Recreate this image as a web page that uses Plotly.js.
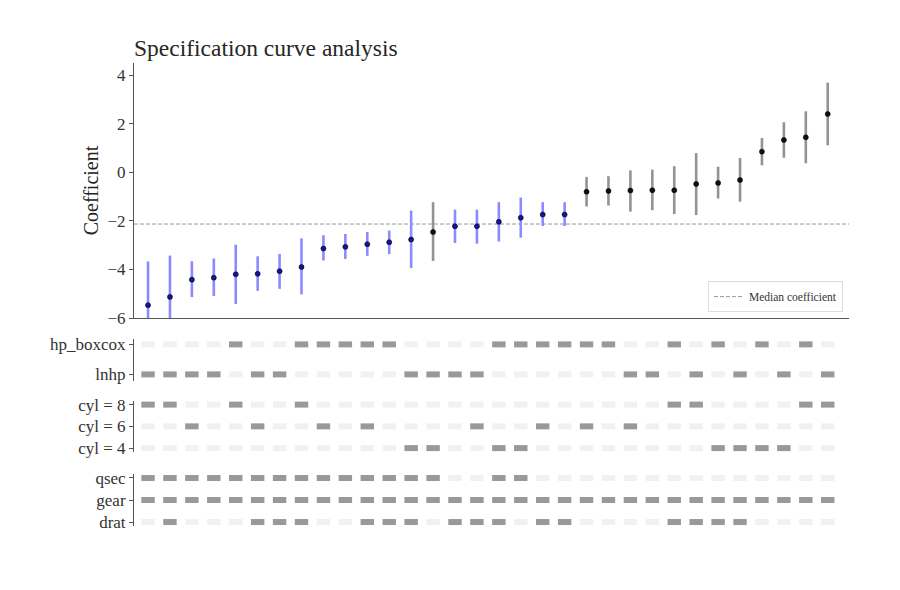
<!DOCTYPE html>
<html>
<head>
<meta charset="utf-8">
<script src="https://cdn.plot.ly/plotly-3.0.1.min.js"></script>
<style>html,body{margin:0;padding:0;background:#fff;}#chart{width:900px;height:590px;}</style>
</head>
<body>
<div id="chart"></div>
<script>
// ---- data ----
const coef   = [-5.47, -5.13, -4.42, -4.34, -4.20, -4.18, -4.07, -3.90, -3.14, -3.07, -2.96, -2.88, -2.77, -2.46, -2.22, -2.22,
                -2.04, -1.87, -1.74, -1.74, -0.80, -0.77, -0.75, -0.74, -0.74, -0.48, -0.44, -0.32, 0.85, 1.33, 1.44, 2.40];
const ciHigh = [-3.67, -3.43, -3.66, -3.55, -2.98, -3.46, -3.36, -2.72, -2.59, -2.54, -2.46, -2.40, -1.58, -1.23, -1.54, -1.54,
                -1.23, -1.04, -1.23, -1.23, -0.19, -0.16, 0.08, 0.11, 0.25, 0.79, 0.23, 0.59, 1.41, 2.06, 2.51, 3.69];
const ciLow  = [-7.27, -6.83, -5.14, -5.09, -5.42, -4.88, -4.80, -5.03, -3.63, -3.57, -3.44, -3.37, -3.94, -3.65, -2.91, -2.94,
                -2.85, -2.69, -2.21, -2.21, -1.41, -1.37, -1.62, -1.56, -1.72, -1.76, -1.08, -1.21, 0.29, 0.60, 0.37, 1.11];
const significant = [1,1,1,1,1,1,1,1,1,1,1,1,1,0,1,1,1,1,1,1,0,0,0,0,0,0,0,0,0,0,0,0];

// specification matrix (1 = included)
const hpBoxcox = [0,0,0,0,1,0,0,1,1,1,1,1,0,0,0,0,1,1,1,1,1,1,0,0,1,0,1,0,1,0,1,0];
const lnhp     = [1,1,1,1,0,1,1,0,0,0,0,0,1,1,1,1,0,0,0,0,0,0,1,1,0,1,0,1,0,1,0,1];
const cyl8     = [1,1,0,0,1,0,0,1,0,0,0,0,0,0,0,0,0,0,0,0,0,0,0,0,1,1,0,0,0,0,1,1];
const cyl6     = [0,0,1,0,0,1,0,0,1,0,1,0,0,0,0,1,0,0,1,0,1,0,1,0,0,0,0,0,0,0,0,0];
const cyl4     = [0,0,0,0,0,0,0,0,0,0,0,0,1,1,0,0,1,1,0,0,0,0,0,0,0,0,1,1,1,1,0,0];
const qsec     = [1,1,1,1,1,1,1,1,1,1,1,1,1,1,0,0,1,1,0,0,0,0,0,0,0,0,0,0,0,0,0,0];
const gear     = [1,1,1,1,1,1,1,1,1,1,1,1,1,1,1,1,1,1,1,1,1,1,1,1,1,1,1,1,1,1,1,1];
const drat     = [0,1,0,0,0,1,1,1,0,0,1,1,1,0,1,1,1,0,1,1,0,0,0,0,1,1,1,1,0,0,0,0];

const panelHp   = {labels: ['lnhp', 'hp_boxcox'], rows: [lnhp, hpBoxcox]};
const panelCyl  = {labels: ['cyl = 4', 'cyl = 6', 'cyl = 8'], rows: [cyl4, cyl6, cyl8]};
const panelCtrl = {labels: ['drat', 'gear', 'qsec'], rows: [drat, gear, qsec]};

const titleText = 'Specification curve analysis';
const yTitle = 'Coefficient';
const medianLabel = 'Median coefficient';

// ---- styles ----
const FONT = '"Liberation Serif", "DejaVu Serif", serif';
const BLUE_BAR = '#8b8bff', BLUE_PT = '#14149c';
const GRAY_BAR = '#939393', GRAY_PT = '#111111';
const ON = '#999999', OFF = '#f1f1f1';
const AXC = '#555555';

const idx = coef.map((_, i) => i);
function pointTrace(flag, barColor, ptColor) {
  const sel = idx.filter(i => significant[i] === flag);
  return {
    type: 'scatter', mode: 'markers', xaxis: 'x', yaxis: 'y', showlegend: false, hoverinfo: 'skip',
    x: sel, y: sel.map(i => coef[i]),
    error_y: {type: 'data', symmetric: false,
      array: sel.map(i => ciHigh[i] - coef[i]),
      arrayminus: sel.map(i => coef[i] - ciLow[i]),
      color: barColor, thickness: 2.6, width: 0},
    marker: {size: 5, color: ptColor, line: {color: '#000', width: 0.6}}
  };
}

function matrixTrace(panel, yaxis) {
  const xs = [], ys = [], cs = [];
  panel.rows.forEach((row, r) => row.forEach((v, i) => { xs.push(i); ys.push(r); cs.push(v ? ON : OFF); }));
  return {
    type: 'scatter', mode: 'markers', xaxis: 'x', yaxis: yaxis, showlegend: false, hoverinfo: 'skip',
    x: xs, y: ys, cliponaxis: false,
    marker: {symbol: 'line-ew', size: 9.6, color: cs, line: {color: cs, width: 6}}
  };
}

const sortedCoef = coef.slice().sort((a, b) => a - b);
const median = (sortedCoef[15] + sortedCoef[16]) / 2;

const data = [
  pointTrace(1, BLUE_BAR, BLUE_PT),
  pointTrace(0, GRAY_BAR, GRAY_PT),
  matrixTrace(panelHp, 'y2'),
  matrixTrace(panelCyl, 'y3'),
  matrixTrace(panelCtrl, 'y4')
];

function catAxis(panel, domain, range) {
  return {domain: domain, range: range, anchor: 'x', showgrid: false, zeroline: false,
    showline: true, linecolor: AXC, linewidth: 1, ticks: 'outside', ticklen: 4, tickcolor: AXC,
    tickvals: panel.labels.map((_, i) => i), ticktext: panel.labels,
    tickfont: {family: FONT, size: 17, color: '#333'}, automargin: false, fixedrange: true};
}

const layout = {
  width: 900, height: 590,
  margin: {l: 134, r: 51, t: 63, b: 64},
  paper_bgcolor: '#ffffff', plot_bgcolor: 'rgba(0,0,0,0)',
  font: {family: FONT, color: '#333'},
  title: {text: titleText, font: {family: FONT, size: 23.5, color: '#262626'},
    xref: 'container', x: 134 / 900, xanchor: 'left', yref: 'container', y: 1 - 48 / 590, yanchor: 'middle'},
  xaxis: {domain: [0, 1], range: [-0.64, 31.97], anchor: 'y', showgrid: false, zeroline: false,
    showline: true, linecolor: AXC, linewidth: 1, showticklabels: false, ticks: '', fixedrange: true},
  yaxis: {domain: [0.4492, 1], range: [-6, 4.5], anchor: 'x', showgrid: false, zeroline: false,
    showline: true, linecolor: AXC, linewidth: 1, ticks: 'outside', ticklen: 4, tickcolor: AXC,
    tickvals: [-6, -4, -2, 0, 2, 4], tickfont: {family: FONT, size: 17, color: '#333'},
    title: {text: yTitle, font: {family: FONT, size: 20, color: '#222'}, standoff: 3},
    automargin: false, fixedrange: true},
  yaxis2: catAxis(panelHp, [0.3132, 0.4039], [-0.22, 1.18]),
  yaxis3: catAxis(panelCyl, [0.1598, 0.2706], [-0.18, 2.18]),
  yaxis4: catAxis(panelCtrl, [0, 0.1123], [-0.18, 2.18]),
  shapes: [{type: 'line', xref: 'x domain', x0: 0, x1: 1, yref: 'y', y0: median, y1: median,
    line: {color: '#9a9a9a', width: 1, dash: '4px,2px'}, layer: 'below',
    showlegend: true, name: medianLabel}],
  showlegend: true,
  legend: {x: 0.9916, xanchor: 'right', y: 0.462, yanchor: 'bottom', xref: 'paper', yref: 'paper',
    bgcolor: '#ffffff', bordercolor: '#dcdcdc', borderwidth: 1,
    font: {family: FONT, size: 11.5, color: '#333'}, itemwidth: 30, tracegroupgap: 0}
};

Plotly.newPlot('chart', data, layout, {staticPlot: true, displayModeBar: false});
</script>
</body>
</html>
